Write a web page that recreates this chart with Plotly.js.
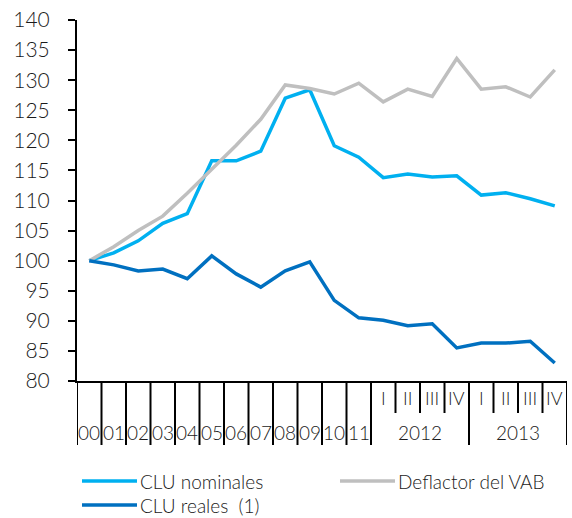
<!DOCTYPE html>
<html>
<head>
<meta charset="utf-8">
<script src="https://cdn.plot.ly/plotly-3.0.1.min.js"></script>
<style>html,body{margin:0;padding:0;background:#fff;}#chart{width:572px;height:518px;}</style>
</head>
<body>
<div id="chart"></div>
<script>
// Category labels
const yearLabels = ["00","01","02","03","04","05","06","07","08","09","10","11"];
const quarterLabels = ["I","II","III","IV"];
const quarterYears = ["2012","2013"];

// Series (index, base 2000 = 100)
const cluNominales = [100, 101.3, 103.3, 106.2, 107.8, 116.6, 116.6, 118.2, 127.0, 128.4, 119.1, 117.2, 113.8, 114.4, 113.9, 114.1, 110.9, 111.3, 110.3, 109.1];
const deflactorVAB = [100, 102.3, 105.0, 107.4, 111.2, 115.2, 119.2, 123.5, 129.2, 128.6, 127.7, 129.5, 126.4, 128.5, 127.3, 133.6, 128.5, 128.9, 127.2, 131.7];
const cluReales    = [100, 99.3, 98.3, 98.6, 97.0, 100.8, 97.8, 95.6, 98.3, 99.8, 93.4, 90.5, 90.1, 89.2, 89.5, 85.5, 86.3, 86.3, 86.6, 83.0];

const seriesNames = ["CLU nominales", "Deflactor del VAB", "CLU reales  (1)"];
const seriesColors = ["#00B0F0", "#BFBFBF", "#0070C0"];

// Build category list
const cats = [];
yearLabels.forEach(y => cats.push({inner: y, outer: null}));
quarterYears.forEach(y => quarterLabels.forEach(q => cats.push({inner: q, outer: y})));
const xs = cats.map((c, i) => i);

const FONT = "Lato, 'Open Sans', sans-serif";
const TXT = "#1a1a1a";
const WGT = 300;

const traces = [
  {x: xs, y: cluNominales, name: seriesNames[0], color: seriesColors[0]},
  {x: xs, y: deflactorVAB, name: seriesNames[1], color: seriesColors[1]},
  {x: xs, y: cluReales, name: seriesNames[2], color: seriesColors[2]}
].map(t => ({x: t.x, y: t.y, name: t.name, type: "scatter", mode: "lines",
  line: {color: t.color, width: 3.5}, showlegend: false, hoverinfo: "skip"}));

// paper y helpers (plot area 20..381 px tall 361)
const H = 361;
const py = px => -(px - 381) / H;

const shapes = [];
const annotations = [];
const yFull = py(445), yShort = py(413);

// dividers
for (let i = 0; i <= cats.length; i++) {
  const b = i - 0.5;
  let full = true;
  if (i > yearLabels.length && i < cats.length) {
    const k = i - yearLabels.length;
    full = (k % quarterLabels.length === 0);
  }
  shapes.push({type: "line", xref: "x", yref: "paper", x0: b, x1: b, y0: 0, y1: full ? yFull : yShort,
    line: {color: "#000", width: 2}});
}

// labels
cats.forEach((c, i) => {
  if (c.outer === null) {
    annotations.push({xref: "x", yref: "paper", x: i, y: py(432), text: c.inner, showarrow: false,
      font: {family: FONT, size: 19, color: TXT, weight: WGT}, xanchor: "center", yanchor: "middle"});
  } else {
    annotations.push({xref: "x", yref: "paper", x: i, y: py(398), text: c.inner, showarrow: false,
      font: {family: FONT, size: 18, color: TXT, weight: WGT}, xanchor: "center", yanchor: "middle"});
  }
});
quarterYears.forEach((y, j) => {
  const start = yearLabels.length + j * quarterLabels.length;
  const mid = start + (quarterLabels.length - 1) / 2;
  annotations.push({xref: "x", yref: "paper", x: mid, y: py(432), text: y, showarrow: false,
    font: {family: FONT, size: 19, color: TXT, weight: WGT}, xanchor: "center", yanchor: "middle"});
});

// custom legend
const W = 490;
const pxX = px => (px - 77) / W;
const legendItems = [
  {name: seriesNames[0], color: seriesColors[0], x: 82, y: 481},
  {name: seriesNames[1], color: seriesColors[1], x: 340, y: 481},
  {name: seriesNames[2], color: seriesColors[2], x: 82, y: 505}
];
legendItems.forEach(it => {
  shapes.push({type: "line", xref: "paper", yref: "paper", x0: pxX(it.x), x1: pxX(it.x + 55),
    y0: py(it.y), y1: py(it.y), line: {color: it.color, width: 3.5}});
  annotations.push({xref: "paper", yref: "paper", x: pxX(it.x + 56), y: py(it.y), text: it.name,
    showarrow: false, xanchor: "left", yanchor: "middle", font: {family: FONT, size: 19, color: TXT, weight: WGT}});
});

const layout = {
  width: 572, height: 518,
  margin: {l: 77, r: 5, t: 20, b: 137},
  paper_bgcolor: "#fff", plot_bgcolor: "#fff",
  font: {family: FONT, color: TXT, weight: WGT},
  xaxis: {range: [-0.5, cats.length - 0.5], showticklabels: false, ticks: "", showgrid: false,
    zeroline: false, showline: true, linecolor: "#000", linewidth: 2, fixedrange: true},
  yaxis: {range: [80, 140], dtick: 5, tick0: 80, ticks: "outside", ticklen: 7, tickwidth: 2,
    tickcolor: "#000", showgrid: false, zeroline: false, showline: true, linecolor: "#000",
    linewidth: 2, tickfont: {family: FONT, size: 21, color: TXT, weight: WGT}, ticklabelstandoff: 14, fixedrange: true},
  shapes: shapes,
  annotations: annotations,
  showlegend: false
};

Plotly.newPlot("chart", traces, layout, {displayModeBar: false, staticPlot: true});
</script>
</body>
</html>
